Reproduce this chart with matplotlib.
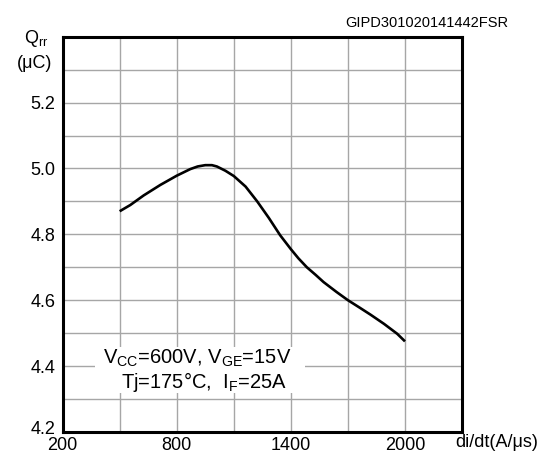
import matplotlib.pyplot as plt
import matplotlib.transforms as mtransforms
import numpy as np

plt.rcParams['font.family'] = ['Liberation Sans', 'DejaVu Sans']
plt.rcParams['mathtext.fontset'] = 'custom'
plt.rcParams['mathtext.rm'] = 'Liberation Sans'

# Qrr vs di/dt curve
didt = [500, 556, 626, 714, 800, 871, 910, 950, 985, 1011, 1056, 1100, 1162,
        1223, 1284, 1344, 1400, 1440, 1484, 1530, 1572, 1640, 1700, 1760,
        1819, 1890, 1959, 2000]
qrr = [4.870, 4.889, 4.918, 4.950, 4.978, 4.998, 5.006, 5.010, 5.010, 5.006,
       4.993, 4.977, 4.945, 4.900, 4.850, 4.797, 4.755, 4.727, 4.700, 4.677,
       4.655, 4.625, 4.600, 4.578, 4.556, 4.528, 4.498, 4.475]

xticks = [200, 800, 1400, 2000]
yticks = [4.2, 4.4, 4.6, 4.8, 5.0, 5.2]

fig = plt.figure(figsize=(5.54, 4.59), dpi=100)
ax = fig.add_axes([0.113, 0.059, 0.721, 0.861])

ax.plot(didt, qrr, color='black', lw=1.9, zorder=3,
        solid_joinstyle='round', solid_capstyle='butt')

ax.set_xlim(200, 2300)
ax.set_ylim(4.2, 5.4)
ax.set_xticks(xticks)
ax.set_xticklabels([str(t) for t in xticks])
ax.set_xticks(np.arange(200, 2301, 300), minor=True)
ax.set_yticks(yticks)
ax.set_yticklabels(['%.1f' % t for t in yticks])
ax.set_yticks(np.arange(4.2, 5.41, 0.1), minor=True)
ax.grid(True, which='both', color='#a6a6a6', lw=1.0, zorder=0)
ax.tick_params(which='both', length=0, labelsize=13)
ax.tick_params(axis='y', pad=5)
ax.tick_params(axis='x', pad=3.5)
for s in ax.spines.values():
    s.set_linewidth(2.2)
    s.set_zorder(5)

# bottom y label sits a little higher so it clears the x labels
ylabs = ax.get_yticklabels()
up = mtransforms.ScaledTranslation(0, 3 / 72, fig.dpi_scale_trans)
ylabs[0].set_transform(ylabs[0].get_transform() + up)

# condition note, white backdrop hides the grid behind it
note_box = plt.Rectangle((370, 4.318), 1107, 0.139, facecolor='white',
                         edgecolor='none', zorder=2)
ax.add_patch(note_box)
ax.text(908, 4.424, '$\\mathregular{V_{CC}}$=600V, $\\mathregular{V_{GE}}$=15V',
        ha='center', va='center', fontsize=14.5, zorder=4)
ax.text(945, 4.352, 'Tj=175°C,  $\\mathregular{I_{F}}$=25A',
        ha='center', va='center', fontsize=14.5, zorder=4)

fig.text(0.897, 0.035, 'di/dt(A/μs)', ha='center', va='center', fontsize=13)
fig.text(0.066, 0.917, '$\\mathregular{Q_{rr}}$', ha='center', va='center', fontsize=13)
fig.text(0.063, 0.861, '(μC)', ha='center', va='center', fontsize=13)
fig.text(0.917, 0.95, 'GIPD301020141442FSR', ha='right', va='center', fontsize=10.5)

fig.savefig('out.png', dpi=100)
